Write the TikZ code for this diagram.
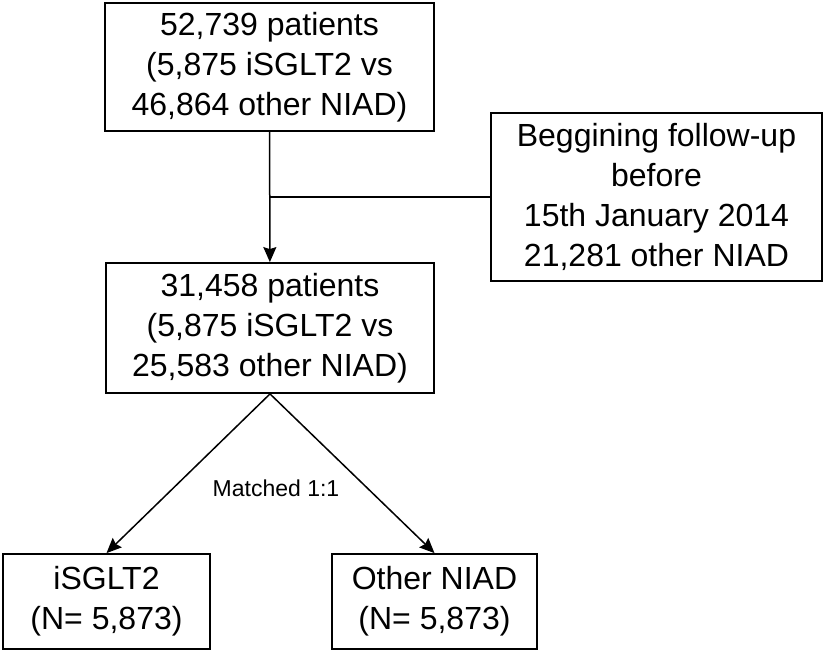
\documentclass[tikz,border=0pt]{standalone}
\usepackage{fontspec}
\setmainfont{Liberation Sans}
\usetikzlibrary{arrows.meta}

\begin{document}
\begin{tikzpicture}[x=1pt, y=-1pt,
    box/.style={draw, line width=1.8pt, inner sep=0pt, align=center,
        font=\fontsize{32}{40}\selectfont},
    link/.style={line width=1.5pt},
    arr/.style={link, -{Stealth[length=15pt, width=13pt, inset=2pt]}}]
    \useasboundingbox (0,0) rectangle (826,655);

    \node[box, minimum width=329pt, minimum height=128pt] (total) at (269.5,67)
        {52,739 patients\\(5,875 iSGLT2 vs\\46,864 other NIAD)};
    \node[box, minimum width=331pt, minimum height=168pt] (excl) at (656.5,197)
        {Beggining follow-up\\before\\15th January 2014\\21,281 other NIAD};
    \node[box, minimum width=328pt, minimum height=130pt] (cohort) at (270,328)
        {31,458 patients\\(5,875 iSGLT2 vs\\25,583 other NIAD)};

    \node[box, minimum width=207pt, minimum height=95pt] (isglt) at (106.5,601.5)
        {iSGLT2\\(N= 5,873)};
    \node[box, minimum width=205pt, minimum height=95pt] (niad) at (434.5,601.5)
        {Other NIAD\\(N= 5,873)};

    \draw[arr] (total) -- (cohort);
    \coordinate (join) at (excl.west -| total.south);
    \draw[link] (excl.west) -- (join);

    \draw[arr] (cohort.south) -- (isglt.north);
    \draw[arr] (cohort.south) -- (niad.north);
    \node[font=\fontsize{23}{27}\selectfont] (match) at (276,488) {Matched 1:1};
\end{tikzpicture}
\end{document}
